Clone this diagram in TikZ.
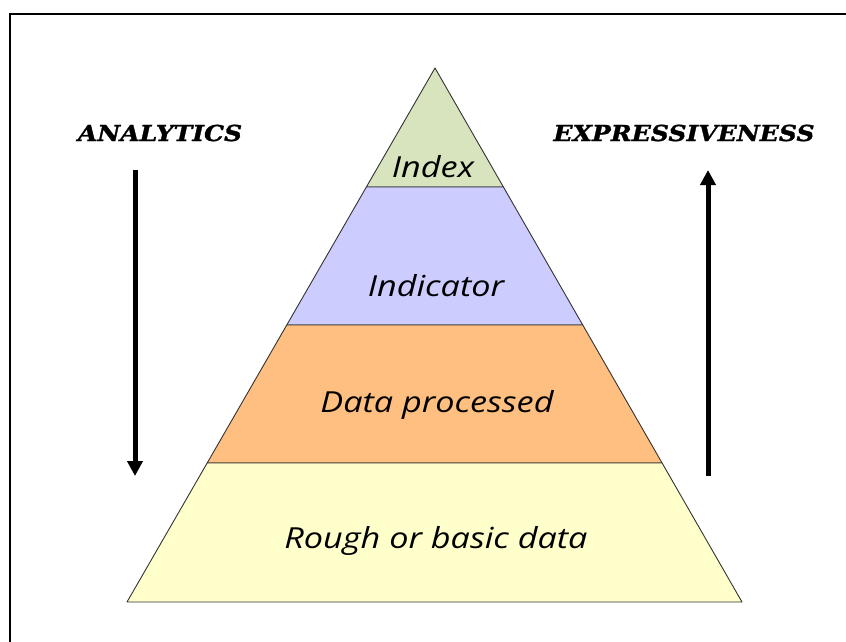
\documentclass[tikz,border=0pt]{standalone}
\usepackage{fontspec}
\setmainfont{Open Sans}
\newfontfamily\tierfont[FakeStretch=1.18]{Open Sans}
\newfontfamily\headfont[FakeStretch=1.14,FakeBold=1.3]{DejaVu Serif}
\usetikzlibrary{arrows.meta,calc}

\definecolor{tierIndex}{HTML}{D7E4BD}
\definecolor{tierIndicator}{HTML}{CCCCFF}
\definecolor{tierProcessed}{HTML}{FFBF80}
\definecolor{tierRough}{HTML}{FFFFCC}
\definecolor{edgeGray}{HTML}{333333}

\tikzset{
  frameline/.style={line width=2.2pt, black},
  tier/.style={draw=edgeGray, line width=0.9pt, line join=round},
  tierlabel/.style={font=\tierfont\fontsize{29}{32}\selectfont\itshape, text=black, inner sep=0pt},
  headlabel/.style={font=\headfont\fontsize{22}{25}\selectfont\bfseries\itshape, text=black, inner sep=0pt},
  bigarrow/.style={line width=5pt, -{Triangle[width=15pt,length=15pt]}, black}
}

\begin{document}
\begin{tikzpicture}[x=1pt,y=-1pt]
\useasboundingbox (0,0) rectangle (846,641);
\fill[white] (0,0) rectangle (846,641);

% outer frame, running off the right and bottom edges
\draw[frameline] (10,14) rectangle (870,670);

% pyramid corners
\coordinate (apex) at (435,68);
\coordinate (bl) at (127,602);
\coordinate (br) at (742,602);

% tier boundaries along the two sides
\coordinate (l1) at ($(apex)!0.2228!(bl)$);
\coordinate (r1) at ($(apex)!0.2228!(br)$);
\coordinate (l2) at ($(apex)!0.4813!(bl)$);
\coordinate (r2) at ($(apex)!0.4813!(br)$);
\coordinate (l3) at ($(apex)!0.7397!(bl)$);
\coordinate (r3) at ($(apex)!0.7397!(br)$);

% tiers, top to bottom
\filldraw[tier, fill=tierIndex] (apex) -- (r1) -- (l1) -- cycle;
\filldraw[tier, fill=tierIndicator] (l1) -- (r1) -- (r2) -- (l2) -- cycle;
\filldraw[tier, fill=tierProcessed] (l2) -- (r2) -- (r3) -- (l3) -- cycle;
\filldraw[tier, fill=tierRough] (l3) -- (r3) -- (br) -- (bl) -- cycle;

% tier labels
\node[tierlabel] (index) at (433,167) {Index};
\node[tierlabel] (indicator) at (436,286) {Indicator};
\node[tierlabel] (processed) at (437,405) {Data processed};
\node[tierlabel] (rough) at (436,541) {Rough or basic data};

% side headings
\node[headlabel] (analytics) at (160,133) {ANALYTICS};
\node[headlabel] (expressive) at (684,133) {EXPRESSIVENESS};

% side arrows
\coordinate (downTop) at (135,170);
\coordinate (downEnd) at (135,476);
\coordinate (upBottom) at (708,476);
\coordinate (upEnd) at (708,170);
\draw[bigarrow] (downTop) -- (downEnd);
\draw[bigarrow] (upBottom) -- (upEnd);
\end{tikzpicture}
\end{document}
